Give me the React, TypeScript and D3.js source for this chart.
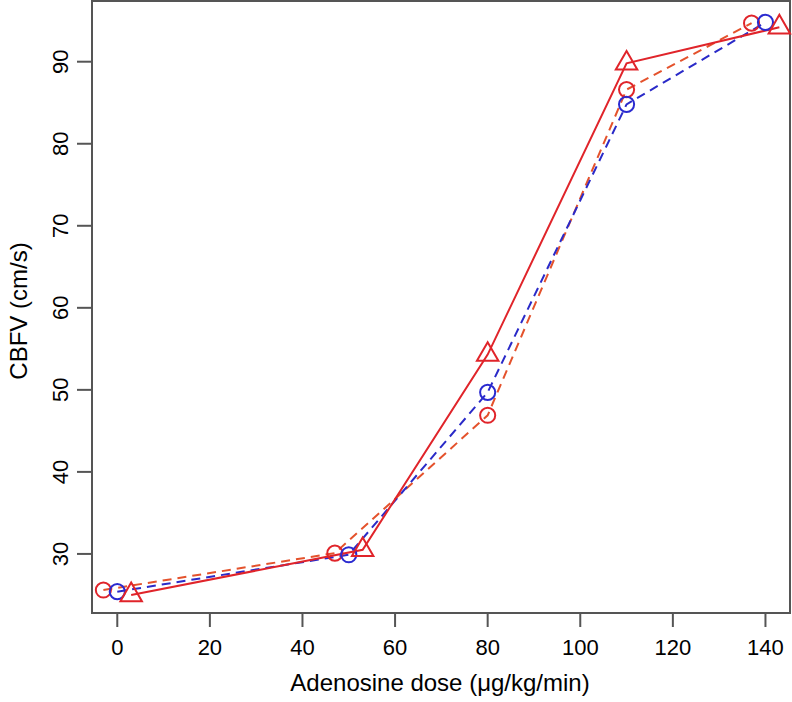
import React, { useRef, useEffect } from 'react';
import * as d3 from 'd3';

// dose values (jittered slightly per series, as in the original)
const doseTri = [3, 53, 80, 110, 143];
const cbfvTri = [25.0, 30.5, 54.3, 89.8, 94.2];

const doseBlue = [0, 50, 80, 110, 140];
const cbfvBlue = [25.4, 29.9, 49.7, 84.8, 94.8];

const doseRed = [-3, 47, 80, 110, 137];
const cbfvRed = [25.6, 30.1, 46.9, 86.6, 94.7];

const xTicks = [0, 20, 40, 60, 80, 100, 120, 140];
const yTicks = [30, 40, 50, 60, 70, 80, 90];

const App = () => {
    const chartRef = useRef<SVGSVGElement | null>(null);

    useEffect(() => {
        d3.select(chartRef.current).selectAll("*").remove();

        const svg = d3.select(chartRef.current)
            .attr("width", 792)
            .attr("height", 702);

        const left = 92, right = 790, top = 1, bottom = 613;
        const font = "'Liberation Sans', Arial, Helvetica, sans-serif";
        const axisCol = "#555";

        const x = d3.scaleLinear().domain([-5.46, 145.3]).range([left, right]);
        const y = d3.scaleLinear().domain([22.8, 97.4]).range([bottom, top]);

        // plot box
        svg.append("rect")
            .attr("x", left).attr("y", top)
            .attr("width", right - left).attr("height", bottom - top)
            .attr("fill", "none")
            .attr("stroke", axisCol)
            .attr("stroke-width", 2);

        // x ticks
        const gx = svg.append("g");
        gx.selectAll("line").data(xTicks).join("line")
            .attr("x1", d => x(d)).attr("x2", d => x(d))
            .attr("y1", bottom).attr("y2", bottom + 14)
            .attr("stroke", axisCol).attr("stroke-width", 2);
        gx.selectAll("text").data(xTicks).join("text")
            .attr("x", d => x(d)).attr("y", 655)
            .attr("text-anchor", "middle")
            .attr("font-family", font).attr("font-size", 22)
            .attr("fill", "#000")
            .text(d => d);

        // y ticks
        const gy = svg.append("g");
        gy.selectAll("line").data(yTicks).join("line")
            .attr("x1", left - 15).attr("x2", left)
            .attr("y1", d => y(d)).attr("y2", d => y(d))
            .attr("stroke", axisCol).attr("stroke-width", 2);
        gy.selectAll("text").data(yTicks).join("text")
            .attr("transform", d => `translate(68,${y(d)}) rotate(-90)`)
            .attr("text-anchor", "middle")
            .attr("font-family", font).attr("font-size", 22)
            .attr("fill", "#000")
            .text(d => d);

        // axis titles
        svg.append("text")
            .attr("x", 440).attr("y", 691)
            .attr("text-anchor", "middle")
            .attr("font-family", font).attr("font-size", 24)
            .attr("fill", "#000")
            .text("Adenosine dose (\u03bcg/kg/min)");
        svg.append("text")
            .attr("transform", "translate(27,311) rotate(-90)")
            .attr("text-anchor", "middle")
            .attr("font-family", font).attr("font-size", 24)
            .attr("fill", "#000")
            .text("CBFV (cm/s)");

        const line = d3.line<[number, number]>()
            .x(d => x(d[0]))
            .y(d => y(d[1]));

        const series = [
            { xs: doseRed, ys: cbfvRed, line: "#e4522c", mark: "#e0242a", dash: "9,6", shape: "circle" },
            { xs: doseBlue, ys: cbfvBlue, line: "#2a2ac8", mark: "#2a2ad0", dash: "9,6", shape: "circle" },
            { xs: doseTri, ys: cbfvTri, line: "#e0242a", mark: "#e0242a", dash: null, shape: "triangle" },
        ];

        series.forEach(s => {
            const pts = s.xs.map((d, i) => [d, s.ys[i]] as [number, number]);
            svg.append("path")
                .datum(pts)
                .attr("fill", "none")
                .attr("stroke", s.line)
                .attr("stroke-width", 2)
                .attr("stroke-dasharray", s.dash)
                .attr("d", line);
        });

        series.forEach(s => {
            const pts = s.xs.map((d, i) => [d, s.ys[i]] as [number, number]);
            const sym = d3.symbol()
                .type(s.shape === "circle" ? d3.symbolCircle : d3.symbolTriangle)
                .size(s.shape === "circle" ? 180 : 200);
            svg.append("g").selectAll("path").data(pts).join("path")
                .attr("transform", d => `translate(${x(d[0])},${y(d[1])})`)
                .attr("d", sym)
                .attr("fill", "none")
                .attr("stroke", s.mark)
                .attr("stroke-width", 2);
        });
    }, []);

    return <svg ref={chartRef} style={{ position: 'absolute', left: 0, top: 0 }}></svg>;
};

export default App;
